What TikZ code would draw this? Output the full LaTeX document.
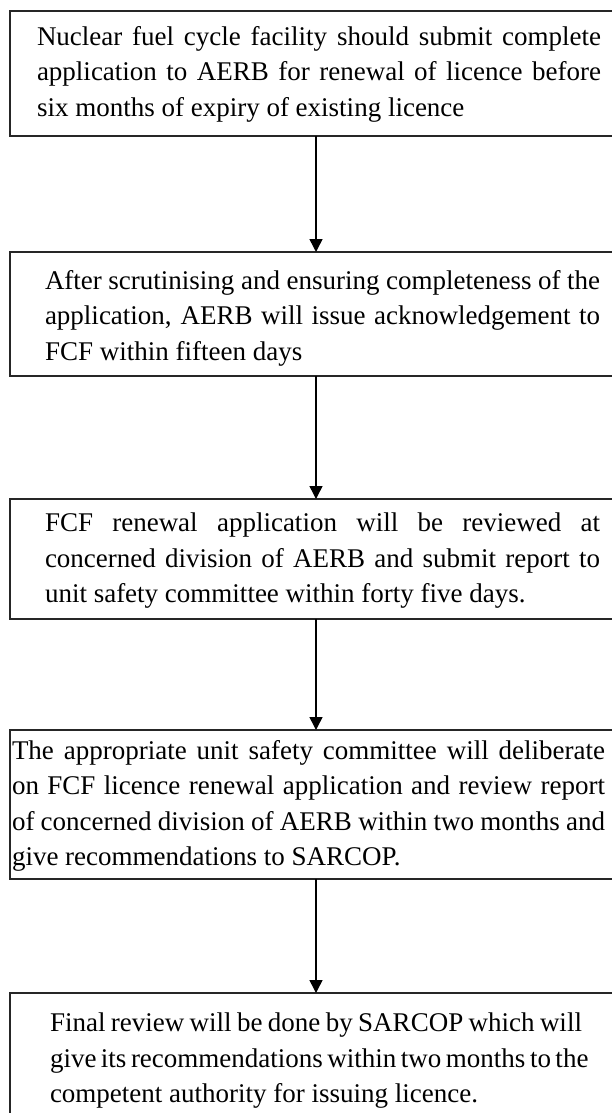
\documentclass[tikz,border=0pt]{standalone}
\usepackage{fontspec}
\setmainfont{Liberation Serif}
\usetikzlibrary{arrows.meta}
\newcommand\jline[1]{\makebox[\linewidth][s]{#1}}
% #1 left offset, #2 text width, #3 box height, #4 top gap, #5 lines
\newcommand\boxbody[5]{\makebox[612bp][l]{\hspace*{#1}\parbox[b][#3][t]{#2}{\vspace*{#4}\fontsize{27bp}{35.5bp}\selectfont #5}}}
\begin{document}
\begin{tikzpicture}[x=1bp,y=-1bp,
  box/.style={draw=black!85,line width=1.7bp,anchor=north west,inner sep=0pt,outer sep=0pt},
  conn/.style={draw=black,line width=1.5bp,-{Triangle[length=13bp,width=13bp]}}]
\useasboundingbox (0,0) rectangle (612,1113);
\clip (0,0) rectangle (612,1113);
\node[box] (b1) at (10,11) {\boxbody{27bp}{564bp}{125bp}{15bp}{%
\jline{Nuclear fuel cycle facility should submit complete}\\
\jline{application to AERB for renewal of licence before}\\
six months of expiry of existing licence}};
\node[box] (b2) at (10,252) {\boxbody{35bp}{555bp}{124bp}{18bp}{%
\jline{After scrutinising and ensuring completeness of the}\\
\jline{application, AERB will issue acknowledgement to}\\
FCF within fifteen days}};
\node[box] (b3) at (10,499) {\boxbody{35bp}{555bp}{120bp}{14bp}{%
\jline{FCF renewal application will be reviewed at}\\
\jline{concerned division of AERB and submit report to}\\
unit safety committee within forty five days.}};
\node[box] (b4) at (10,730) {\boxbody{2bp}{593bp}{149bp}{10bp}{%
\jline{The appropriate unit safety committee will deliberate}\\
\jline{on FCF licence renewal application and review report}\\
\jline{of concerned division of AERB within two months and}\\
give recommendations to SARCOP.}};
\node[box] (b5) at (10,993) {\boxbody{40bp}{532bp}{135bp}{20bp}{%
\jline{Final review will be done by SARCOP which will}\\
\jline{give its recommendations within two months to the}\\
competent authority for issuing licence.}};
\draw[conn] (b1) -- (b2);
\draw[conn] (b2) -- (b3);
\draw[conn] (b3) -- (b4);
\draw[conn] (b4) -- (b5);
\end{tikzpicture}
\end{document}
